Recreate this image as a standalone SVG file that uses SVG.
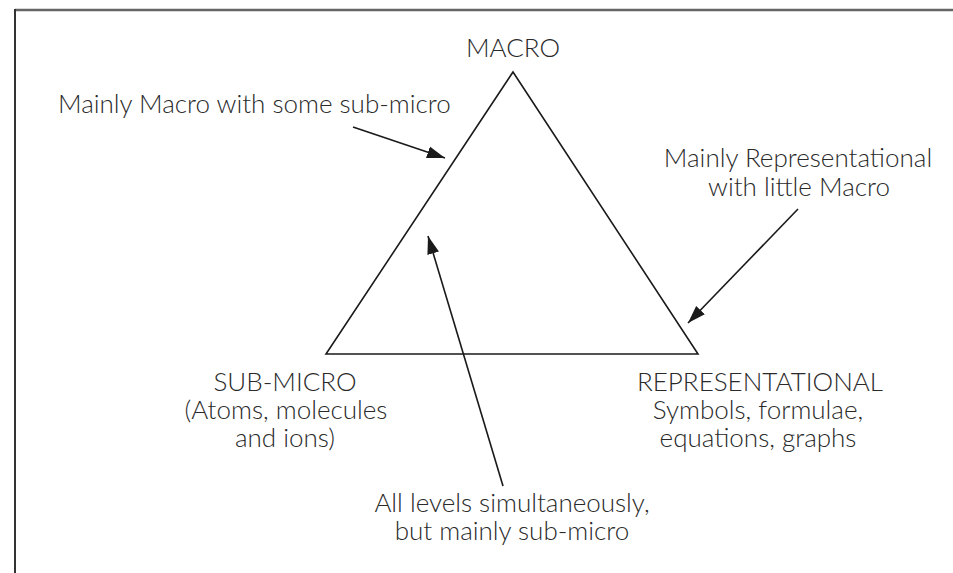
<svg xmlns="http://www.w3.org/2000/svg" width="953" height="573" viewBox="0 0 953 573">
<style>
.t{font-family:"Lato","Open Sans","Liberation Sans",sans-serif;font-weight:300;font-size:26px;fill:#2a2a2a}
.m{text-anchor:middle}
.c{stroke:#1a1a1a;stroke-width:1.6;fill:none}
</style>
<defs>
<marker id="ah" markerUnits="userSpaceOnUse" markerWidth="20" markerHeight="14" refX="18" refY="6" orient="auto" viewBox="0 0 20 12">
<path d="M0,0 L18,6 L0,12 Z" fill="#1a1a1a"/>
</marker>
</defs>
<rect width="953" height="573" fill="#fff"/>
<g id="frame">
<line x1="15" y1="10" x2="953" y2="10" stroke="#666" stroke-width="2.5"/>
<line x1="15" y1="9" x2="15" y2="573" stroke="#333" stroke-width="2"/>
</g>
<g id="triangle">
<polygon points="513,72 326,354 698,354" class="c" stroke-linejoin="miter"/>
</g>
<g id="macro"><text class="t m" x="513" y="57">MACRO</text></g>
<g id="submicro">
<text class="t m" x="285" y="391">SUB-MICRO</text>
<text class="t m" x="286" y="419">(Atoms, molecules</text>
<text class="t m" x="285" y="447">and ions)</text>
</g>
<g id="representational">
<text class="t m" x="760" y="391">REPRESENTATIONAL</text>
<text class="t m" x="758" y="419">Symbols, formulae,</text>
<text class="t m" x="758" y="447">equations, graphs</text>
</g>
<g id="note-macro"><text class="t" x="58" y="113">Mainly Macro with some sub-micro</text></g>
<g id="note-rep">
<text class="t m" x="798" y="167">Mainly Representational</text>
<text class="t m" x="799" y="196">with little Macro</text>
</g>
<g id="note-all">
<text class="t m" x="512" y="512">All levels simultaneously,</text>
<text class="t m" x="512" y="540">but mainly sub-micro</text>
</g>
<g id="connectors">
<line class="c" x1="353" y1="127" x2="445" y2="158" marker-end="url(#ah)"/>
<line class="c" x1="798" y1="209" x2="688" y2="323" marker-end="url(#ah)"/>
<line class="c" x1="503" y1="486" x2="428" y2="236" marker-end="url(#ah)"/>
</g>
</svg>
